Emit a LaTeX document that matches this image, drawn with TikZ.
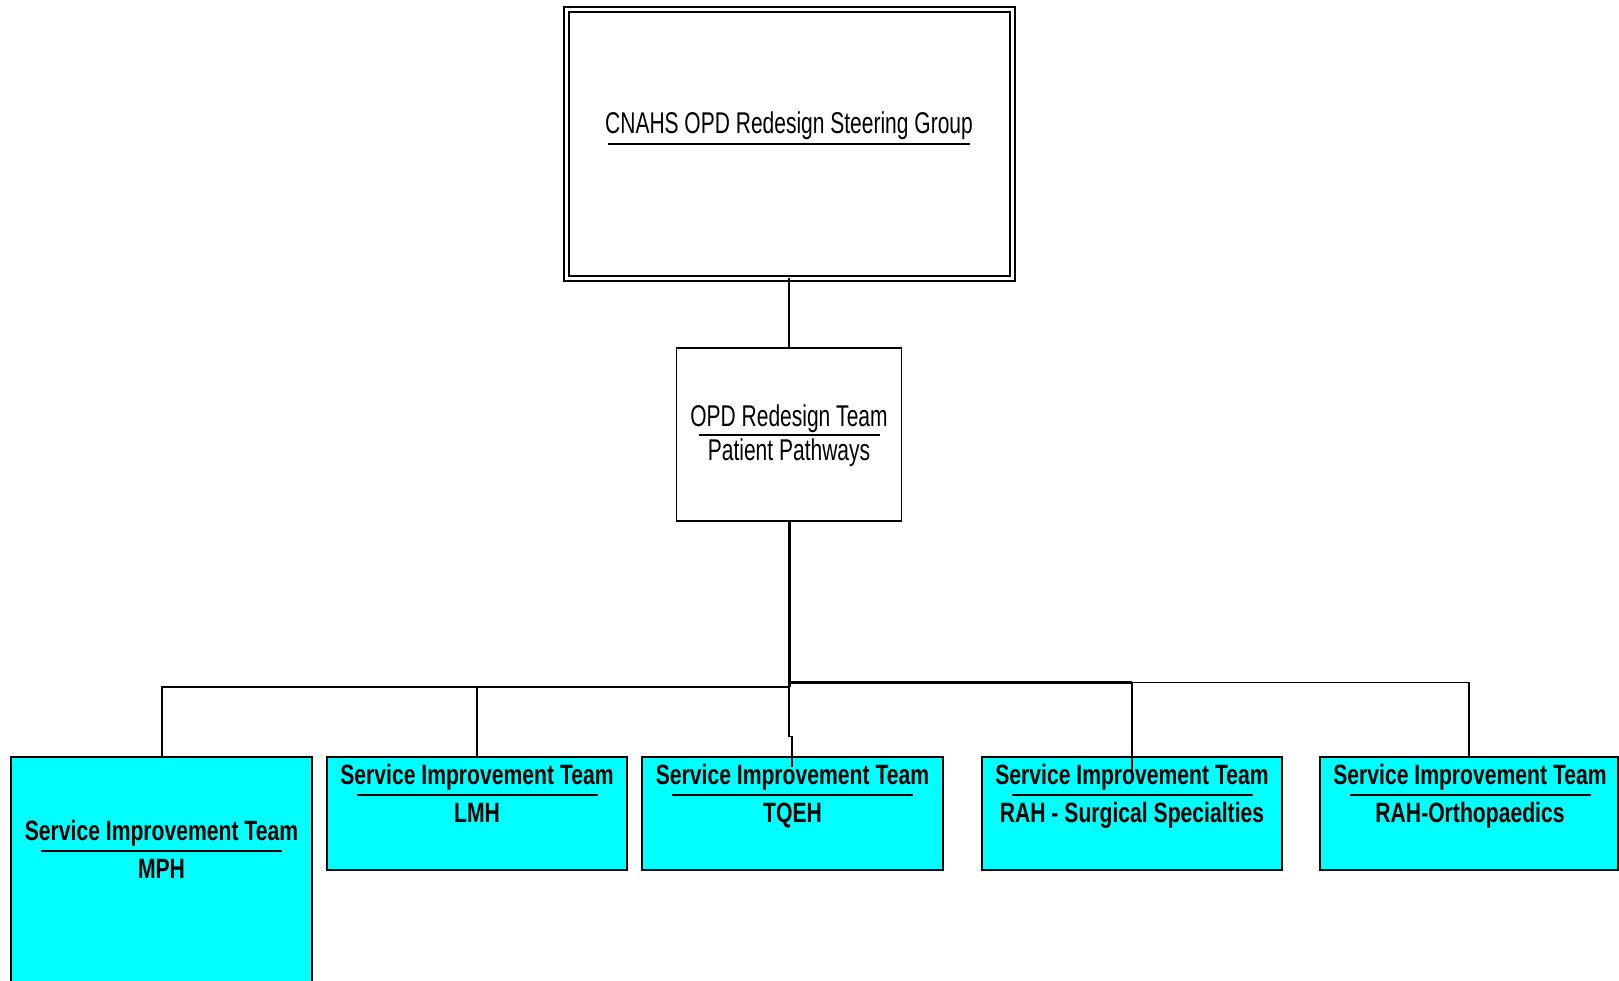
\documentclass[tikz,border=0pt]{standalone}
\usepackage{fontspec}
\setmainfont{Liberation Sans}
\newfontfamily\regn[FakeStretch=0.70]{Liberation Sans}
\newfontfamily\boldn[FakeStretch=0.755]{Liberation Sans}
\definecolor{teamcyan}{HTML}{00FFFF}
\tikzset{
  box/.style={draw=black, line width=1.5pt, inner sep=0pt, outer sep=0pt, fill=white},
  team/.style={box, fill=teamcyan, minimum height=113pt},
  reg/.style={inner sep=0pt, outer sep=0pt, anchor=base, font=\regn\fontsize{30}{36}\selectfont},
  bld/.style={inner sep=0pt, outer sep=0pt, anchor=base, font=\boldn\bfseries\fontsize{28}{34}\selectfont},
  conn/.style={draw=black, line width=1.5pt},
  uline/.style={draw=black, line width=1.8pt},
}
\begin{document}
\begin{tikzpicture}[x=1pt, y=-1pt]
\useasboundingbox (0,0) rectangle (1619,980);
\clip (0,0) rectangle (1619,980);

% steering group
\node[box, double, double distance=3pt, line width=2pt, minimum width=446pt, minimum height=268.5pt] (top) at (789,143.75) {};
\node[reg] (topT) at (789,133.3) {CNAHS OPD Redesign Steering Group};
\draw[uline] (608,144) -- (970,144);

% redesign team
\node[box, minimum width=225pt, minimum height=173pt] (mid) at (789,434.5) {};
\node[reg] (midT1) at (789,426.7) {OPD Redesign Team};
\node[reg] (midT2) at (789,460.7) {Patient Pathways};
\draw[uline] (699,435) -- (880,435);

% team boxes
\node[team, minimum width=301pt, minimum height=238pt] (mph) at (161.5,876) {};
\node[team, minimum width=300pt] (lmh) at (477,813.5) {};
\node[team, minimum width=301pt] (tqeh) at (792.5,813.5) {};
\node[team, minimum width=300pt] (rahs) at (1132,813.5) {};
\node[team, minimum width=298pt] (raho) at (1469,813.5) {};

% connectors
\coordinate (jL) at (789,686.7);
\coordinate (jR) at (789,682.7);
\coordinate (tqA) at (789,736.7);
\coordinate (tqB) at (792,736.7);
\coordinate (tqE) at (792,767);
\coordinate (rsE) at (1132,773);
\draw[conn] (top.south) -- (mid.north);
\draw[draw=black, line width=3pt] (mid.south) -- (jL);
\draw[draw=black, line width=2pt] (jL) -| (mph.north);
\draw[conn] (lmh.north |- jL) -- (lmh.north);
\draw[draw=black, line width=3pt] (jR) -- (rahs.north |- jR);
\draw[conn] (rahs.north |- jR) -| (raho.north);
\draw[conn] (rahs.north |- jR) -- (rsE);
\draw[conn] (jL) -- (tqA) -- (tqB) -- (tqE);

% team texts
\node[bld] (mphT1) at (161.5,840) {Service Improvement Team};
\node[bld] (mphT2) at (161.5,878) {MPH};
\draw[uline] (41,851) -- (282,851);

\node[bld] (lmhT1) at (477,784) {Service Improvement Team};
\node[bld] (lmhT2) at (477,822) {LMH};
\draw[uline] (356.5,795) -- (597.5,795);

\node[bld] (tqehT1) at (792.5,784) {Service Improvement Team};
\node[bld] (tqehT2) at (792.5,822) {TQEH};
\draw[uline] (672,795) -- (913,795);

\node[bld] (rahsT1) at (1132,784) {Service Improvement Team};
\node[bld] (rahsT2) at (1132,822) {RAH - Surgical Specialties};
\draw[uline] (1011.5,795) -- (1252.5,795);

\node[bld] (rahoT1) at (1470,784) {Service Improvement Team};
\node[bld] (rahoT2) at (1470,822) {RAH-Orthopaedics};
\draw[uline] (1350,795) -- (1591,795);
\end{tikzpicture}
\end{document}
